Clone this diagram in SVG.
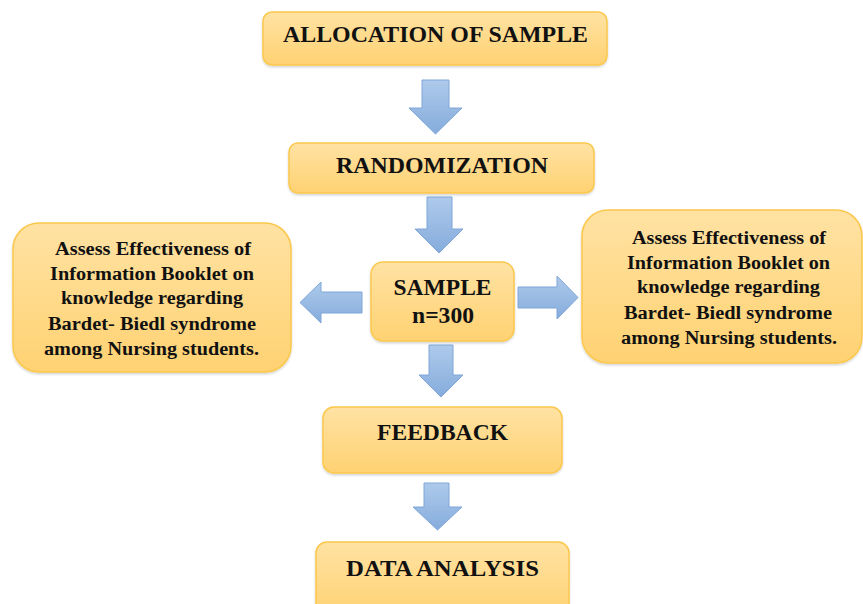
<svg xmlns="http://www.w3.org/2000/svg" width="863" height="604" viewBox="0 0 863 604">
<defs>
<linearGradient id="gBox" x1="0" y1="0" x2="0" y2="1">
<stop offset="0" stop-color="#FFE2A3"/>
<stop offset="1" stop-color="#FFD272"/>
</linearGradient>
<linearGradient id="gArr" x1="0" y1="0" x2="0" y2="1">
<stop offset="0" stop-color="#AECAEB"/>
<stop offset="1" stop-color="#85ACDC"/>
</linearGradient>
<filter id="sh" x="-10%" y="-10%" width="120%" height="130%">
<feDropShadow dx="0" dy="1.5" stdDeviation="1.2" flood-color="#000" flood-opacity="0.18"/>
</filter>
</defs>
<style>
.box{fill:url(#gBox);stroke:#FBC84C;stroke-width:1.5;filter:url(#sh)}
.arr{fill:url(#gArr);stroke:#7FA6D8;stroke-width:1;stroke-linejoin:miter}
.t{font-family:"Liberation Serif","Times New Roman",serif;font-weight:bold;fill:#111;text-anchor:middle}
.big{font-size:23px}
.sm{font-size:18.5px}
</style>
<rect width="863" height="604" fill="#fff"/>

<g id="connectors">
<polygon class="arr" points="422,80 449,80 449,108 462,108 435.5,134 409,108 422,108"/>
<polygon class="arr" points="427,197 452,197 452,229 463,229 439,253 415,229 427,229"/>
<polygon class="arr" points="362,292 321,292 321,282 300,302.5 321,323 321,313 362,313"/>
<polygon class="arr" points="518,287 557,287 557,276 578,297.5 557,319 557,308 518,308"/>
<polygon class="arr" points="429,345 453,345 453,375 463,375 441,397 419,375 429,375"/>
<polygon class="arr" points="424,483 449,483 449,507 462,507 437.5,530 413,507 424,507"/>
</g>

<g id="allocation">
<rect class="box" x="263" y="12" width="344" height="53" rx="9"/>
<text class="t big" x="435.5" y="42" textLength="305" lengthAdjust="spacingAndGlyphs">ALLOCATION OF SAMPLE</text>
</g>

<g id="randomization">
<rect class="box" x="289" y="143" width="305" height="50" rx="9"/>
<text class="t big" x="442" y="173" textLength="212" lengthAdjust="spacingAndGlyphs">RANDOMIZATION</text>
</g>

<g id="sample">
<rect class="box" x="371" y="262" width="143" height="79" rx="12"/>
<text class="t big" x="442.5" y="295" textLength="98" lengthAdjust="spacingAndGlyphs">SAMPLE</text>
<text class="t big" x="443" y="323" textLength="62" lengthAdjust="spacingAndGlyphs">n=300</text>
</g>

<g id="assess-left">
<rect class="box" x="13" y="223" width="278" height="149" rx="26"/>
<text class="t sm" x="153" y="255" textLength="196" lengthAdjust="spacingAndGlyphs">Assess Effectiveness of</text>
<text class="t sm" x="152" y="280" textLength="204" lengthAdjust="spacingAndGlyphs">Information Booklet on</text>
<text class="t sm" x="152" y="304" textLength="182" lengthAdjust="spacingAndGlyphs">knowledge regarding</text>
<text class="t sm" x="152" y="330" textLength="208" lengthAdjust="spacingAndGlyphs">Bardet- Biedl syndrome</text>
<text class="t sm" x="151.5" y="355" textLength="215" lengthAdjust="spacingAndGlyphs">among Nursing students.</text>
</g>

<g id="assess-right">
<rect class="box" x="582" y="210" width="280" height="153" rx="26"/>
<text class="t sm" x="729" y="244" textLength="194" lengthAdjust="spacingAndGlyphs">Assess Effectiveness of</text>
<text class="t sm" x="728.5" y="269" textLength="203" lengthAdjust="spacingAndGlyphs">Information Booklet on</text>
<text class="t sm" x="728.5" y="293" textLength="183" lengthAdjust="spacingAndGlyphs">knowledge regarding</text>
<text class="t sm" x="728" y="319" textLength="208" lengthAdjust="spacingAndGlyphs">Bardet- Biedl syndrome</text>
<text class="t sm" x="729" y="344" textLength="216" lengthAdjust="spacingAndGlyphs">among Nursing students.</text>
</g>

<g id="feedback">
<rect class="box" x="323" y="407" width="239" height="66" rx="11"/>
<text class="t big" x="442.5" y="440" textLength="131" lengthAdjust="spacingAndGlyphs">FEEDBACK</text>
</g>

<g id="data-analysis">
<rect class="box" x="316" y="542" width="253" height="75" rx="11"/>
<text class="t big" x="442.5" y="576" textLength="193" lengthAdjust="spacingAndGlyphs">DATA ANALYSIS</text>
</g>
</svg>
